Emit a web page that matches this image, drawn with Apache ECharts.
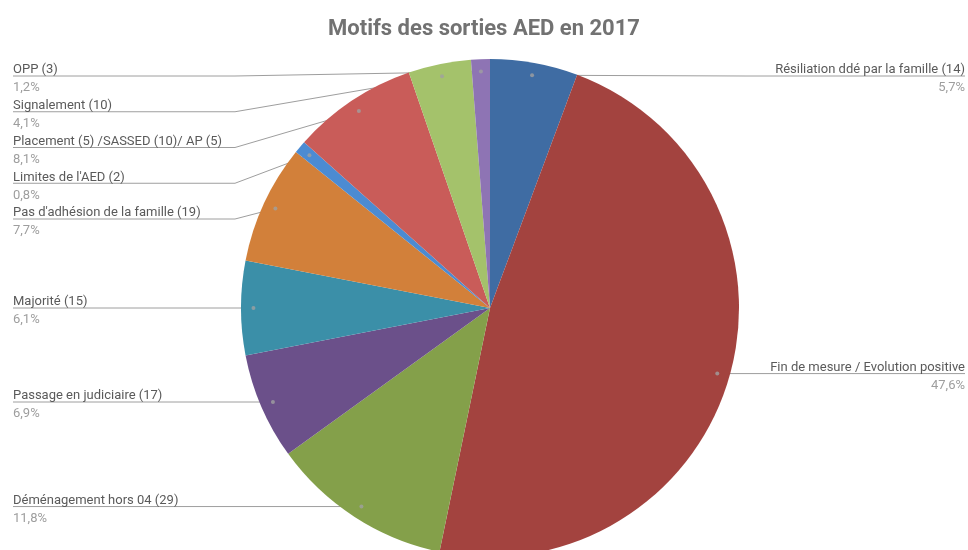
<!DOCTYPE html>
<html>
<head>
<meta charset="utf-8">
<script src="https://cdn.jsdelivr.net/npm/echarts@6/dist/echarts.min.js"></script>
<style>
  html, body { margin: 0; padding: 0; background: #fff; }
  #chart { width: 968px; height: 550px; }
</style>
</head>
<body>
<div id="chart"></div>
<script>
// données
var categories = [
	'Résiliation ddé par la famille (14)',
	'Fin de mesure / Evolution positive',
	'Déménagement hors 04 (29)',
	'Passage en judiciaire (17)',
	'Majorité (15)',
	"Pas d'adhésion de la famille (19)",
	"Limites de l'AED (2)",
	'Placement (5) /SASSED (10)/ AP (5)',
	'Signalement (10)',
	'OPP (3)'
];
var values = [14, 117, 29, 17, 15, 19, 2, 20, 10, 3];
var colors = ['#3f6ca3', '#a3433f', '#84a04a', '#6b508a', '#3b8fa8', '#d2803a', '#4c8bd2', '#c95c59', '#a4c26b', '#8e74b4'];

var total = values.reduce(function (a, b) { return a + b; }, 0);

// géométrie du camembert
var cx = 490, cy = 308, R = 249;
var dotR = 0.95;
var leftX = 13, rightX = 965;
var leftElbow = 235, rightElbow = 745;
var gap = 35.75, topMin = 76;

function pct(v) {
	return (v / total * 100).toFixed(1).replace('.', ',') + '%';
}

// angle milieu de chaque part (en unités de données)
var mids = [];
var acc = 0;
for (let i = 0; i < values.length; i++) {
	mids.push(acc + values[i] / 2);
	acc += values[i];
}

// position des points et des lignes d'étiquettes
var layoutInfo = [];
for (let i = 0; i < values.length; i++) {
	var a = mids[i] / total * Math.PI * 2;
	layoutInfo.push({
		side: mids[i] / total < 0.5 ? 'right' : 'left',
		dx: cx + R * dotR * Math.sin(a),
		dy: cy - R * dotR * Math.cos(a),
		lineY: 0
	});
}
['left', 'right'].forEach(function (side) {
	var idx = [];
	for (let i = 0; i < layoutInfo.length; i++) {
		if (layoutInfo[i].side == side) idx.push(i);
	}
	idx.sort(function (a, b) { return layoutInfo[a].dy - layoutInfo[b].dy; });
	var prev = topMin - gap;
	idx.forEach(function (i) {
		var y = Math.max(layoutInfo[i].dy, prev + gap);
		layoutInfo[i].lineY = y;
		prev = y;
	});
});

var pieData = [];
for (let i = 0; i < values.length; i++) {
	pieData.push({ name: categories[i], value: values[i], itemStyle: { color: colors[i] } });
}
var dotData = [];
for (let i = 0; i < values.length; i++) {
	dotData.push([dotR, mids[i]]);
}

var chart = echarts.init(document.getElementById('chart'));
var option = {
	animation: false,
	backgroundColor: '#fff',
	textStyle: { fontFamily: 'Roboto' },
	title: {
		text: 'Motifs des sorties AED en 2017',
		left: 'center',
		top: 13,
		textStyle: { fontFamily: 'Roboto', fontSize: 22, fontWeight: 'bold', color: '#727272' }
	},
	polar: { center: [cx, cy], radius: R },
	angleAxis: { type: 'value', min: 0, max: total, startAngle: 90, clockwise: true, show: false },
	radiusAxis: { type: 'value', min: 0, max: 1, show: false },
	series: [
		{
			type: 'pie',
			center: [cx, cy],
			radius: R,
			startAngle: 90,
			clockwise: true,
			data: pieData,
			emphasis: { disabled: true },
			label: {
				show: true,
				position: 'outside',
				overflow: 'none',
				formatter: function (p) {
					return '{n|' + p.name + '}\n{p|' + pct(p.value) + '}';
				},
				rich: {
					n: { fontFamily: 'Roboto', fontSize: 13, color: '#5a5a5a', lineHeight: 18 },
					p: { fontFamily: 'Roboto', fontSize: 13, color: '#9e9e9e', lineHeight: 18 }
				}
			},
			labelLine: {
				show: true,
				lineStyle: { color: '#9e9e9e', width: 1 }
			},
			labelLayout: function (params) {
				var info = layoutInfo[params.dataIndex];
				var endX = info.side == 'left' ? leftX : rightX;
				var elbowX = info.side == 'left' ? leftElbow : rightElbow;
				return {
					x: endX,
					y: info.lineY + 3,
					align: info.side == 'left' ? 'left' : 'right',
					verticalAlign: 'middle',
					labelLinePoints: [[info.dx, info.dy], [elbowX, info.lineY], [endX, info.lineY]]
				};
			},
			z: 2
		},
		{
			type: 'scatter',
			coordinateSystem: 'polar',
			data: dotData,
			symbolSize: 4,
			itemStyle: { color: '#a0a0a0' },
			silent: true,
			z: 5
		}
	]
};
chart.setOption(option);
</script>
</body>
</html>
